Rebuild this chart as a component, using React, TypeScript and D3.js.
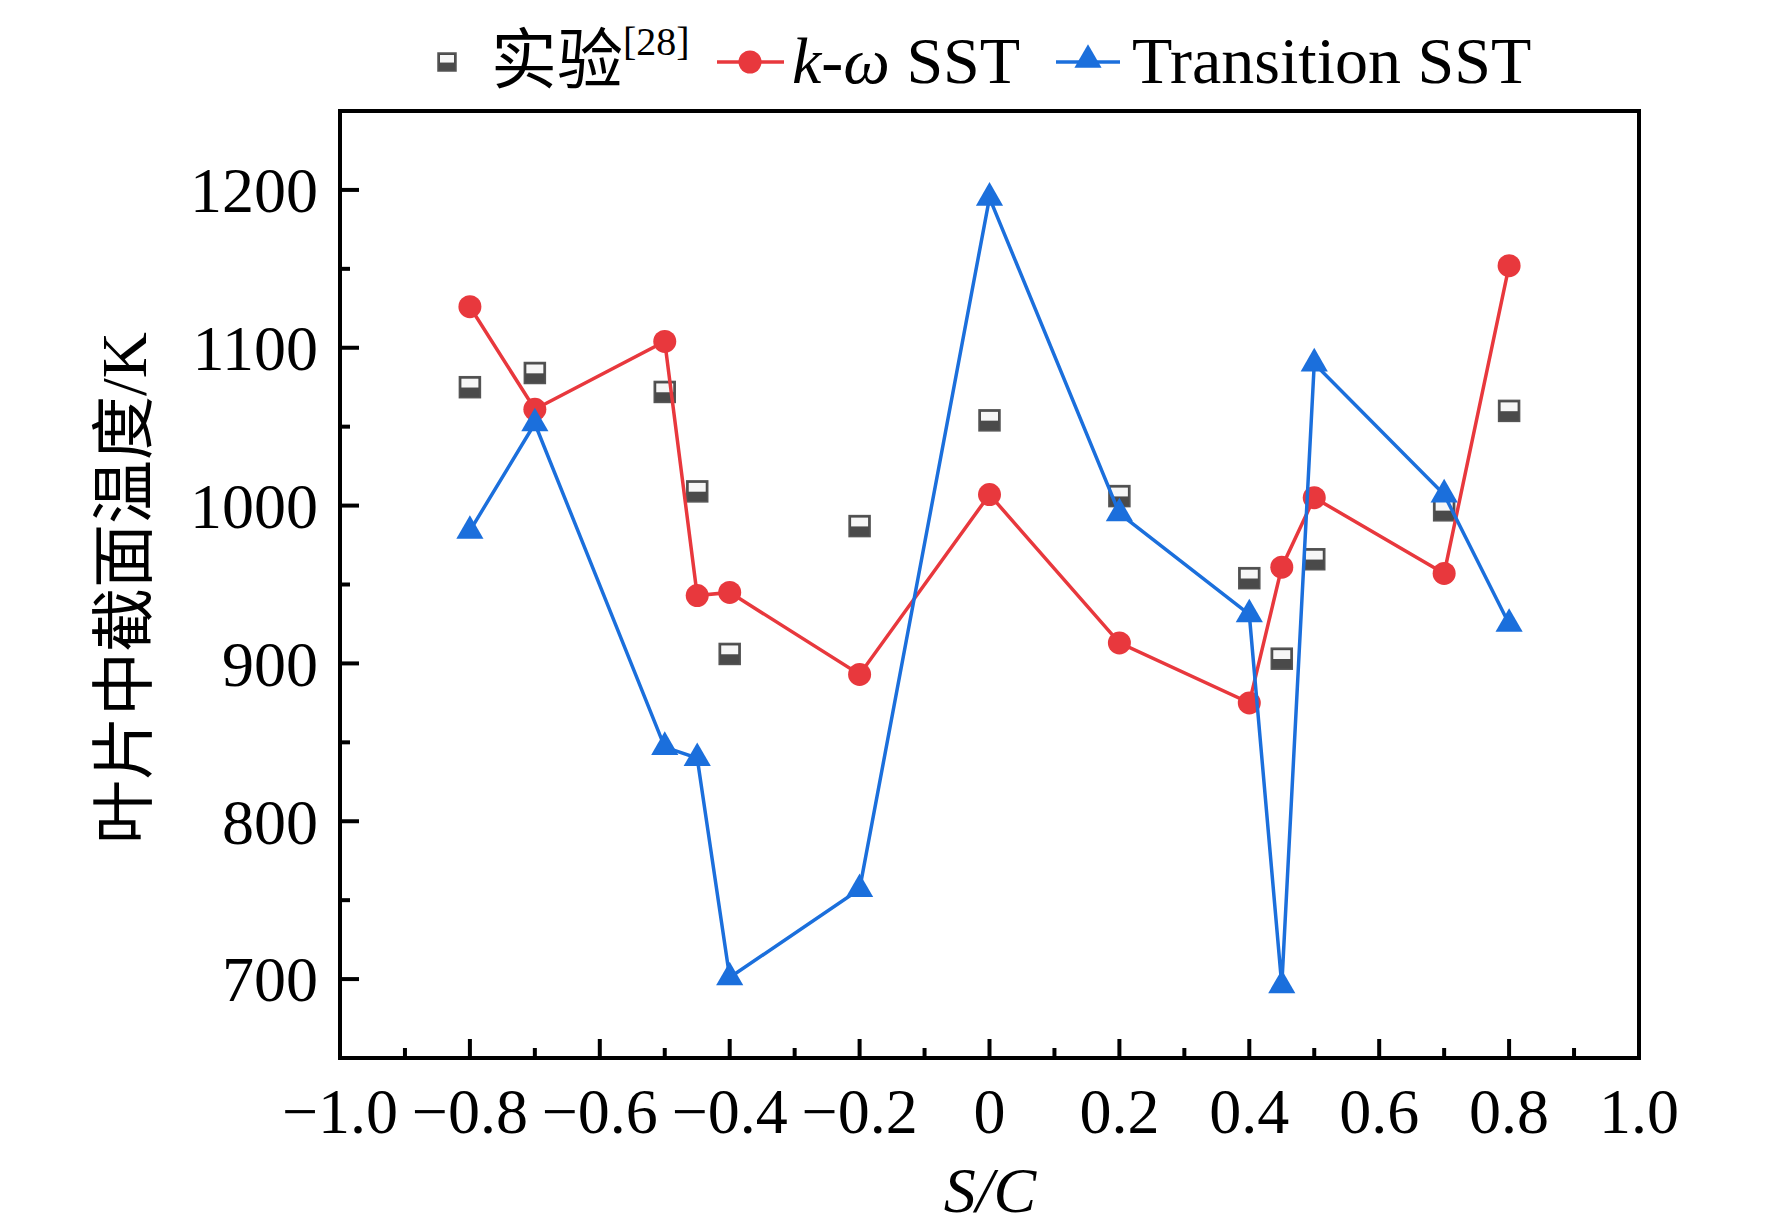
import * as d3 from "d3";

// S/C positions along the blade section
const SC = [-0.8, -0.7, -0.5, -0.45, -0.4, -0.2, 0, 0.2, 0.4, 0.45, 0.5, 0.7, 0.8];
// temperatures (K)
const EXPERIMENT = [1075, 1084, 1072, 1009, 906, 987, 1054, 1006, 954, 903, 966, 997, 1060];
const K_OMEGA_SST = [1126, 1061, 1104, 943, 945, 893, 1007, 913, 875, 961, 1005, 957, 1152];
const TRANSITION_SST = [984, 1052, 847, 840, 701, 757, 1195, 995, 931, 696, 1090, 1007, 925];

const X_TICKS = [-1.0, -0.8, -0.6, -0.4, -0.2, 0, 0.2, 0.4, 0.6, 0.8, 1.0];
const X_TICK_LABELS = ["−1.0", "−0.8", "−0.6", "−0.4", "−0.2", "0", "0.2", "0.4", "0.6", "0.8", "1.0"];
const X_MINOR = [-0.9, -0.7, -0.5, -0.3, -0.1, 0.1, 0.3, 0.5, 0.7, 0.9];
const Y_TICKS = [700, 800, 900, 1000, 1100, 1200];
const Y_MINOR = [750, 850, 950, 1050, 1150];

const W = 1772;
const H = 1232;
const LEFT = 340;
const RIGHT = 1639;
const TOP = 111;
const BOTTOM = 1058;

const RED = "#e8383d";
const BLUE = "#1b6fdc";
const FONT = "'Liberation Serif', 'Times New Roman', 'Noto Sans CJK SC', serif";

const x = d3.scaleLinear().domain([-1, 1]).range([LEFT, RIGHT]);
const y = d3.scaleLinear().domain([650, 1250]).range([BOTTOM, TOP]);

const line = d3
  .line<number>()
  .x((_, i) => x(SC[i]))
  .y((d) => y(d));

const triangle = d3.symbol().type(d3.symbolTriangle).size(320)() || "";

function ExpMarker({ cx, cy, s = 20 }: { cx: number; cy: number; s?: number }) {
  return (
    <g transform={`translate(${cx - s / 2},${cy - s / 2})`}>
      <rect width={s} height={s} fill="#4a4a4a" />
      <rect x={2} y={2} width={s - 4} height={s * 0.42} fill="#f6f6f6" />
      <rect width={s} height={s} fill="none" stroke="#555" strokeWidth={1.5} />
    </g>
  );
}

export default function App() {
  return (
    <svg
      width={W}
      height={H}
      style={{ position: "absolute", left: 0, top: 0, background: "#fff" }}
      fontFamily={FONT}
    >
      <rect width={W} height={H} fill="#fff" />

      {/* experiment */}
      {EXPERIMENT.map((v, i) => (
        <ExpMarker key={"e" + i} cx={x(SC[i])} cy={y(v)} s={21} />
      ))}

      {/* k-omega SST */}
      <path d={line(K_OMEGA_SST) || ""} fill="none" stroke={RED} strokeWidth={3.5} />
      {K_OMEGA_SST.map((v, i) => (
        <circle key={"k" + i} cx={x(SC[i])} cy={y(v)} r={11.5} fill={RED} />
      ))}

      {/* Transition SST */}
      <path d={line(TRANSITION_SST) || ""} fill="none" stroke={BLUE} strokeWidth={3.5} />
      {TRANSITION_SST.map((v, i) => (
        <path key={"t" + i} d={triangle} transform={`translate(${x(SC[i])},${y(v)})`} fill={BLUE} />
      ))}

      {/* frame */}
      <rect
        x={LEFT}
        y={TOP}
        width={RIGHT - LEFT}
        height={BOTTOM - TOP}
        fill="none"
        stroke="#000"
        strokeWidth={4}
      />

      {/* x ticks */}
      {X_TICKS.map((t, i) => (
        <g key={"xt" + i}>
          <line x1={x(t)} x2={x(t)} y1={BOTTOM} y2={BOTTOM - 19} stroke="#000" strokeWidth={4} />
          <text x={x(t)} y={1133} fontSize={64} textAnchor="middle">
            {X_TICK_LABELS[i]}
          </text>
        </g>
      ))}
      {X_MINOR.map((t, i) => (
        <line key={"xm" + i} x1={x(t)} x2={x(t)} y1={BOTTOM} y2={BOTTOM - 10} stroke="#000" strokeWidth={4} />
      ))}

      {/* y ticks */}
      {Y_TICKS.map((t, i) => (
        <g key={"yt" + i}>
          <line x1={LEFT} x2={LEFT + 19} y1={y(t)} y2={y(t)} stroke="#000" strokeWidth={4} />
          <text x={318} y={y(t)} dy="0.35em" fontSize={64} textAnchor="end">
            {t}
          </text>
        </g>
      ))}
      {Y_MINOR.map((t, i) => (
        <line key={"ym" + i} x1={LEFT} x2={LEFT + 10} y1={y(t)} y2={y(t)} stroke="#000" strokeWidth={4} />
      ))}

      {/* axis titles */}
      <text x={990} y={1212} fontSize={64} textAnchor="middle" fontStyle="italic">
        S/C
      </text>
      <text
        transform="translate(146,588) rotate(-90)"
        fontSize={64}
        textAnchor="middle"
      >
        叶片中截面温度/K
      </text>

      {/* legend */}
      <ExpMarker cx={447} cy={62} s={18} />
      <text x={491} y={83} fontSize={66}>
        实验
        <tspan fontSize={40} dy={-28}>
          [28]
        </tspan>
      </text>

      <line x1={717} x2={784} y1={62} y2={62} stroke={RED} strokeWidth={3.5} />
      <circle cx={750} cy={62} r={11.5} fill={RED} />
      <text x={792} y={83} fontSize={66}>
        <tspan fontStyle="italic">k</tspan>-<tspan fontStyle="italic">ω</tspan> SST
      </text>

      <line x1={1056} x2={1120} y1={62} y2={62} stroke={BLUE} strokeWidth={3.5} />
      <path d={triangle} transform="translate(1088,60)" fill={BLUE} />
      <text x={1132} y={83} fontSize={66}>
        Transition SST
      </text>
    </svg>
  );
}
